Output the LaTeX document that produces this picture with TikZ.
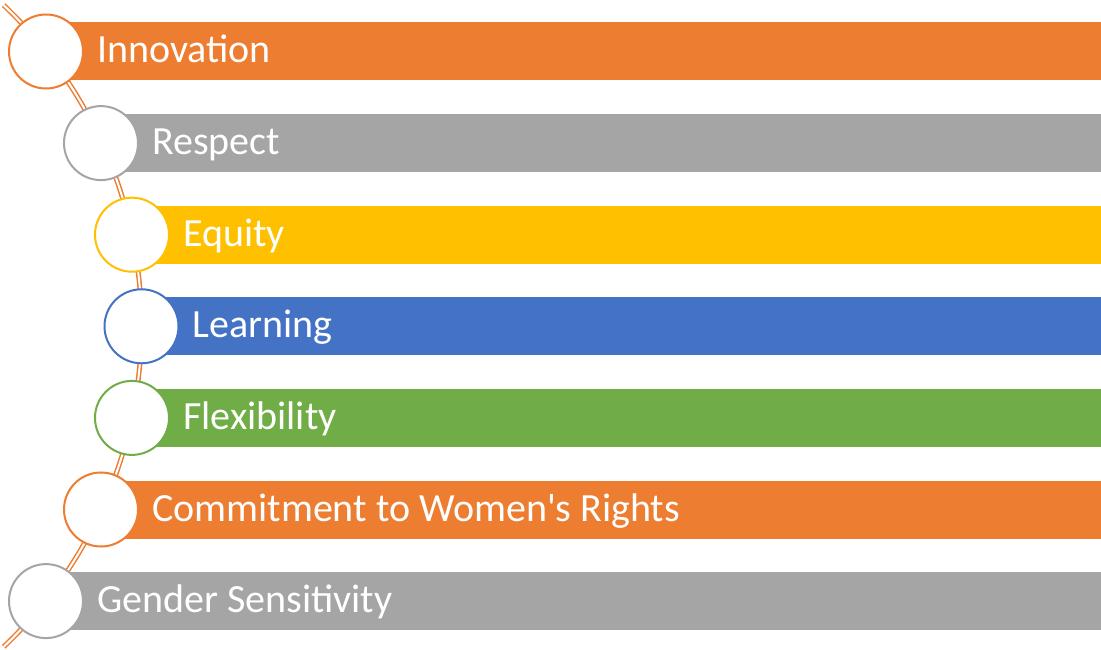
\documentclass[tikz,border=0pt]{standalone}
\usepackage{fontspec}
\setmainfont{Carlito}[Ligatures=TeXOff]
\definecolor{corange}{HTML}{ED7D31}
\definecolor{cgray}{HTML}{A5A5A5}
\definecolor{cgold}{HTML}{FFC000}
\definecolor{cblue}{HTML}{4472C4}
\definecolor{cgreen}{HTML}{70AD47}
\tikzset{
  ring/.style={circle, draw=#1, fill=white, line width=2pt, minimum size=74pt, inner sep=0pt},
  lbl/.style={text=white, font=\fontsize{40}{48}\selectfont, anchor=base west, inner sep=0pt},
  spine/.style={corange, line width=1.5pt, double=white, double distance=2pt}
}
\begin{document}
\begin{tikzpicture}[x=1pt,y=1pt]
\useasboundingbox (0,0) rectangle (1101,649);
\coordinate (arcc) at (-300.8,323);
\draw[spine] ([shift={(46.5:442.3pt)}]arcc) arc (46.5:-46.5:442.3pt);
\foreach \n/\x/\c/\t in {1/46/corange/Innovation,2/101/cgray/Respect,3/132/cgold/Equity,4/141.5/cblue/Learning,5/132/cgreen/Flexibility,6/101/corange/Commitment to Women's Rights,7/46/cgray/Gender Sensitivity}{
  \pgfmathsetmacro{\y}{649-(51.5+91.6*(\n-1))}
  \fill[\c] (\x,\y-29) rectangle (1101,\y+29);
  \node[ring=\c] (c\n) at (\x,\y) {};
  \node[lbl] (t\n) at (\x+51,\y-11.5) {\t};
}
\end{tikzpicture}
\end{document}
